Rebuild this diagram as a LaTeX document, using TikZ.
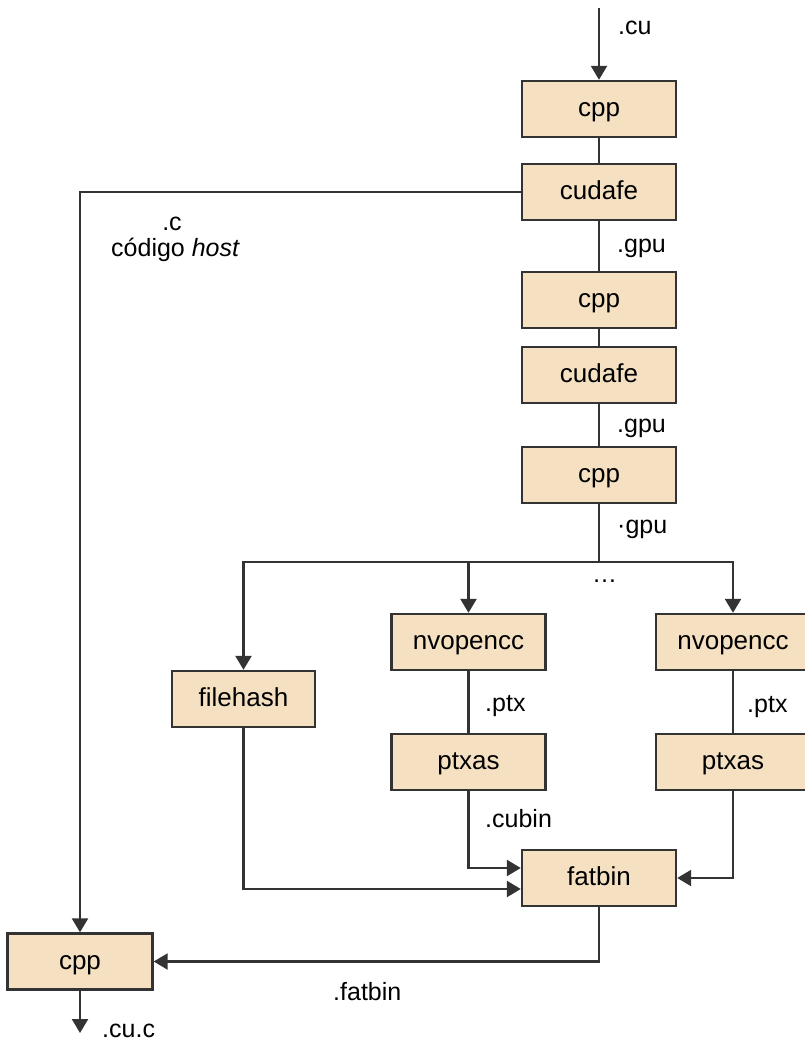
\documentclass[tikz,border=0pt]{standalone}
\usepackage{fontspec}
\setmainfont{Liberation Sans}
\usetikzlibrary{arrows.meta}
\definecolor{boxfill}{HTML}{F5E1C2}
\definecolor{ink}{HTML}{333333}
\begin{document}
\begin{tikzpicture}[x=1pt,y=-1pt,
  every node/.style={font=\fontsize{25}{30}\selectfont, text=black},
  tool/.style={draw=ink, line width=2.4pt, fill=boxfill, minimum width=154pt, minimum height=56pt,
               inner sep=0pt, text height=15pt, text depth=0pt, font=\fontsize{26}{30}\selectfont},
  link/.style={draw=ink, line width=2.4pt},
  arr/.style={link, -{Triangle[width=16pt,length=14pt]}},
  lbl/.style={anchor=base west, inner sep=0pt}]
\useasboundingbox (0,0) rectangle (804,1043);

% compilation stages
\node[tool] (cpp1) at (599,109) {cpp};
\node[tool] (cud1) at (599,192) {cudafe};
\node[tool] (cpp2) at (599,300) {cpp};
\node[tool] (cud2) at (599,375) {cudafe};
\node[tool] (cpp3) at (599,475) {cpp};
\node[tool, minimum width=143pt] (fh) at (243.5,699) {filehash};
\node[tool] (nv1)  at (468.5,642) {nvopencc};
\node[tool] (px1)  at (468.5,762) {ptxas};
\node[tool] (nv2)  at (733,642) {nvopencc};
\node[tool] (px2)  at (733,762) {ptxas};
\node[tool] (fat)  at (599,878) {fatbin};
\node[tool, minimum width=145pt] (cppf) at (80,961.5) {cpp};

% free ends and branch point
\coordinate (cuin)  at (599,8);
\coordinate (split) at (599,562);
\coordinate (cuout) at (80,1033);

% connectors
\draw[arr] (cuin) -- (cpp1);
\draw[link] (cpp1) -- (cud1);
\draw[arr] (cud1.west) -| (cppf.north);
\draw[link] (cud1) -- (cpp2);
\draw[link] (cpp2) -- (cud2);
\draw[link] (cud2) -- (cpp3);
\draw[link] (cpp3) -- (split);
\draw[arr] (split) -| (fh.north);
\draw[arr] (split) -| (nv2.north);
\draw[arr] (nv1.north |- split) -- (nv1);
\draw[link] (nv1) -- (px1);
\draw[link] (nv2) -- (px2);
\draw[arr] (px1.south) |- ([yshift=10pt]fat.west);
\draw[arr] (fh.south) |- ([yshift=-11pt]fat.west);
\draw[arr] (px2.south) |- (fat.east);
\draw[arr] (fat.south) |- (cppf.east);
\draw[arr] (cppf) -- (cuout);

% file-type labels
\node[lbl] (lcu)  at (618,35)  {.cu};
\node[anchor=base, inner sep=0pt] (lc) at (172,230) {.c};
\node[lbl] (lhost) at (111,256) {código \textit{host}};
\node[lbl] (lgpu1) at (617,252) {.gpu};
\node[lbl] (lgpu2) at (617,432) {.gpu};
\node[lbl] (lgpu3) at (617,533) {·gpu};
\node[lbl] (ldots) at (592,582) {\ldots};
\node[lbl] (lptx1) at (485,711) {.ptx};
\node[lbl] (lcubin) at (485,827) {.cubin};
\node[lbl] (lptx2) at (747,712) {.ptx};
\node[lbl] (lfat) at (333,1000) {.fatbin};
\node[lbl] (lcuc) at (102,1037) {.cu.c};
\end{tikzpicture}
\end{document}
